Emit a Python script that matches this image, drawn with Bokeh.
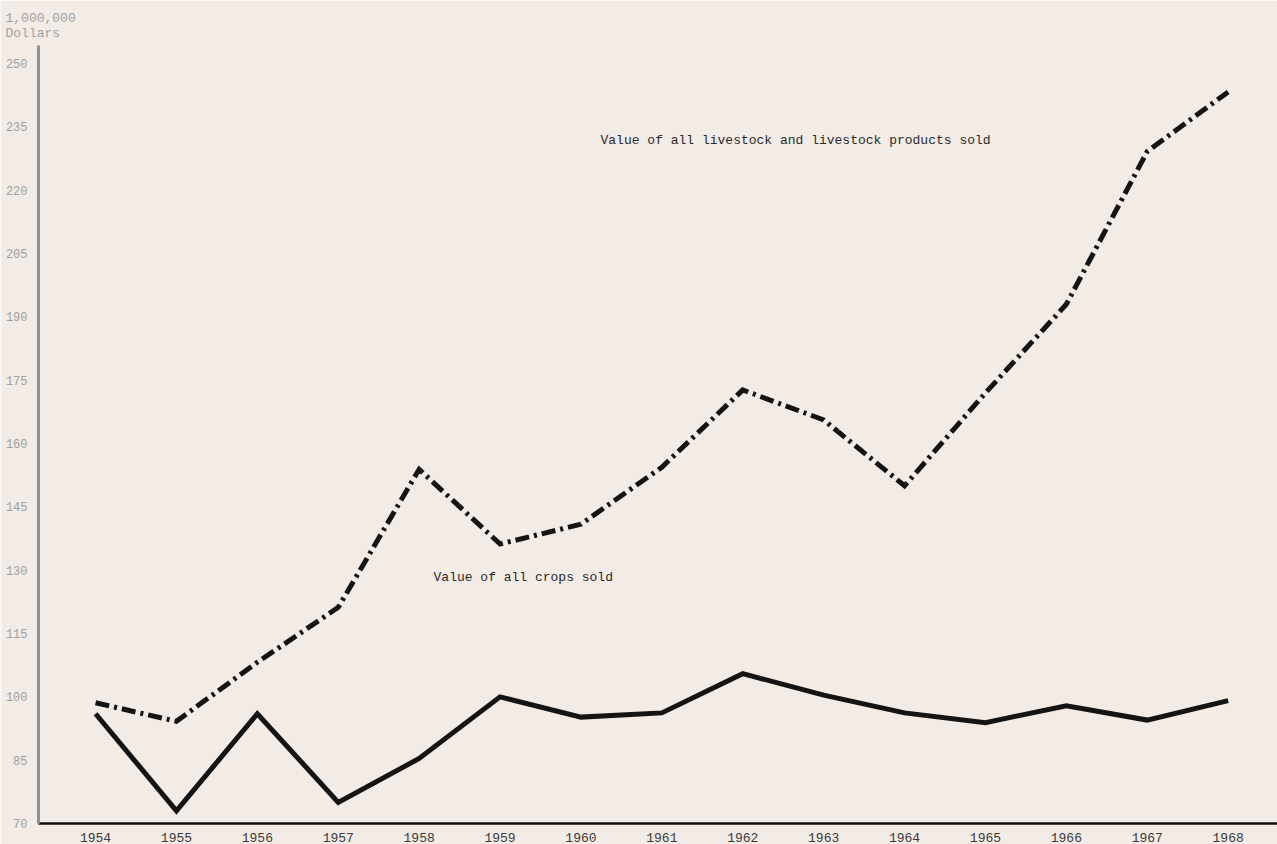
from bokeh.plotting import figure
from bokeh.models import FixedTicker, Label, Title, Range1d
from bokeh.embed import file_html
from bokeh.resources import INLINE

# ---- data (million dollars) ----
years = [1954, 1955, 1956, 1957, 1958, 1959, 1960, 1961,
         1962, 1963, 1964, 1965, 1966, 1967, 1968]
crops = [96.0, 73.0, 96.0, 75.0, 85.4, 100.0, 95.2, 96.2,
         105.5, 100.4, 96.2, 93.9, 97.9, 94.5, 99.1]
livestock = [98.6, 94.2, 108.2, 121.2, 153.9, 136.2, 140.9, 154.4,
             172.7, 165.6, 150.0, 172.0, 193.0, 229.2, 243.3]
y_ticks = [70, 85, 100, 115, 130, 145, 160, 175, 190, 205, 220, 235, 250]
x_ticks = years
livestock_label = "Value of all livestock and livestock products sold"
crops_label = "Value of all crops sold"
unit_label = "1,000,000\nDollars"

PAPER = "#f3ebe5"
MONO = "Liberation Mono"

p = figure(width=1277, height=844, output_backend="svg", toolbar_location=None,
           x_range=Range1d(1953.295, 1968.61), y_range=Range1d(70, 254.3),
           min_border_left=38, min_border_right=0, min_border_top=45,
           min_border_bottom=21)
p.background_fill_color = PAPER
p.border_fill_color = PAPER
p.outline_line_color = None
p.grid.visible = False

p.title = Title(text=unit_label, align="left", offset=-33, standoff=9,
                text_font=MONO, text_font_size="13px", text_font_style="normal",
                text_color="#a0a0a4")

# axes
p.yaxis.ticker = FixedTicker(ticks=y_ticks)
p.yaxis.axis_line_color = "#909090"
p.yaxis.axis_line_width = 3
p.yaxis.major_tick_line_color = None
p.yaxis.minor_tick_line_color = None
p.yaxis.major_label_standoff = 5
p.yaxis.major_label_text_font = MONO
p.yaxis.major_label_text_font_size = "12px"
p.yaxis.major_label_text_color = "#a0a0a0"

p.xaxis.ticker = FixedTicker(ticks=x_ticks)
p.xaxis.axis_line_color = "#111111"
p.xaxis.axis_line_width = 2.5
p.xaxis.major_tick_line_color = None
p.xaxis.minor_tick_line_color = None
p.xaxis.major_label_standoff = 3
p.xaxis.major_label_text_font = MONO
p.xaxis.major_label_text_font_size = "13px"
p.xaxis.major_label_text_color = "#3a3a3a"

# series
p.line(years, livestock, line_color="#141414", line_width=5,
       line_dash="14 5 3 5", line_join="miter")
p.line(years, crops, line_color="#141414", line_width=5, line_join="miter")

# annotations
p.add_layout(Label(x=1960.242, y=231.8, text=livestock_label, text_font=MONO,
                   text_font_size="13px", text_color="#2a2a2a",
                   text_baseline="middle", text_align="left"))
p.add_layout(Label(x=1958.178, y=128.3, text=crops_label, text_font=MONO,
                   text_font_size="13px", text_color="#2a2a2a",
                   text_baseline="middle", text_align="left"))

open("out.html", "w").write(file_html(p, INLINE))
